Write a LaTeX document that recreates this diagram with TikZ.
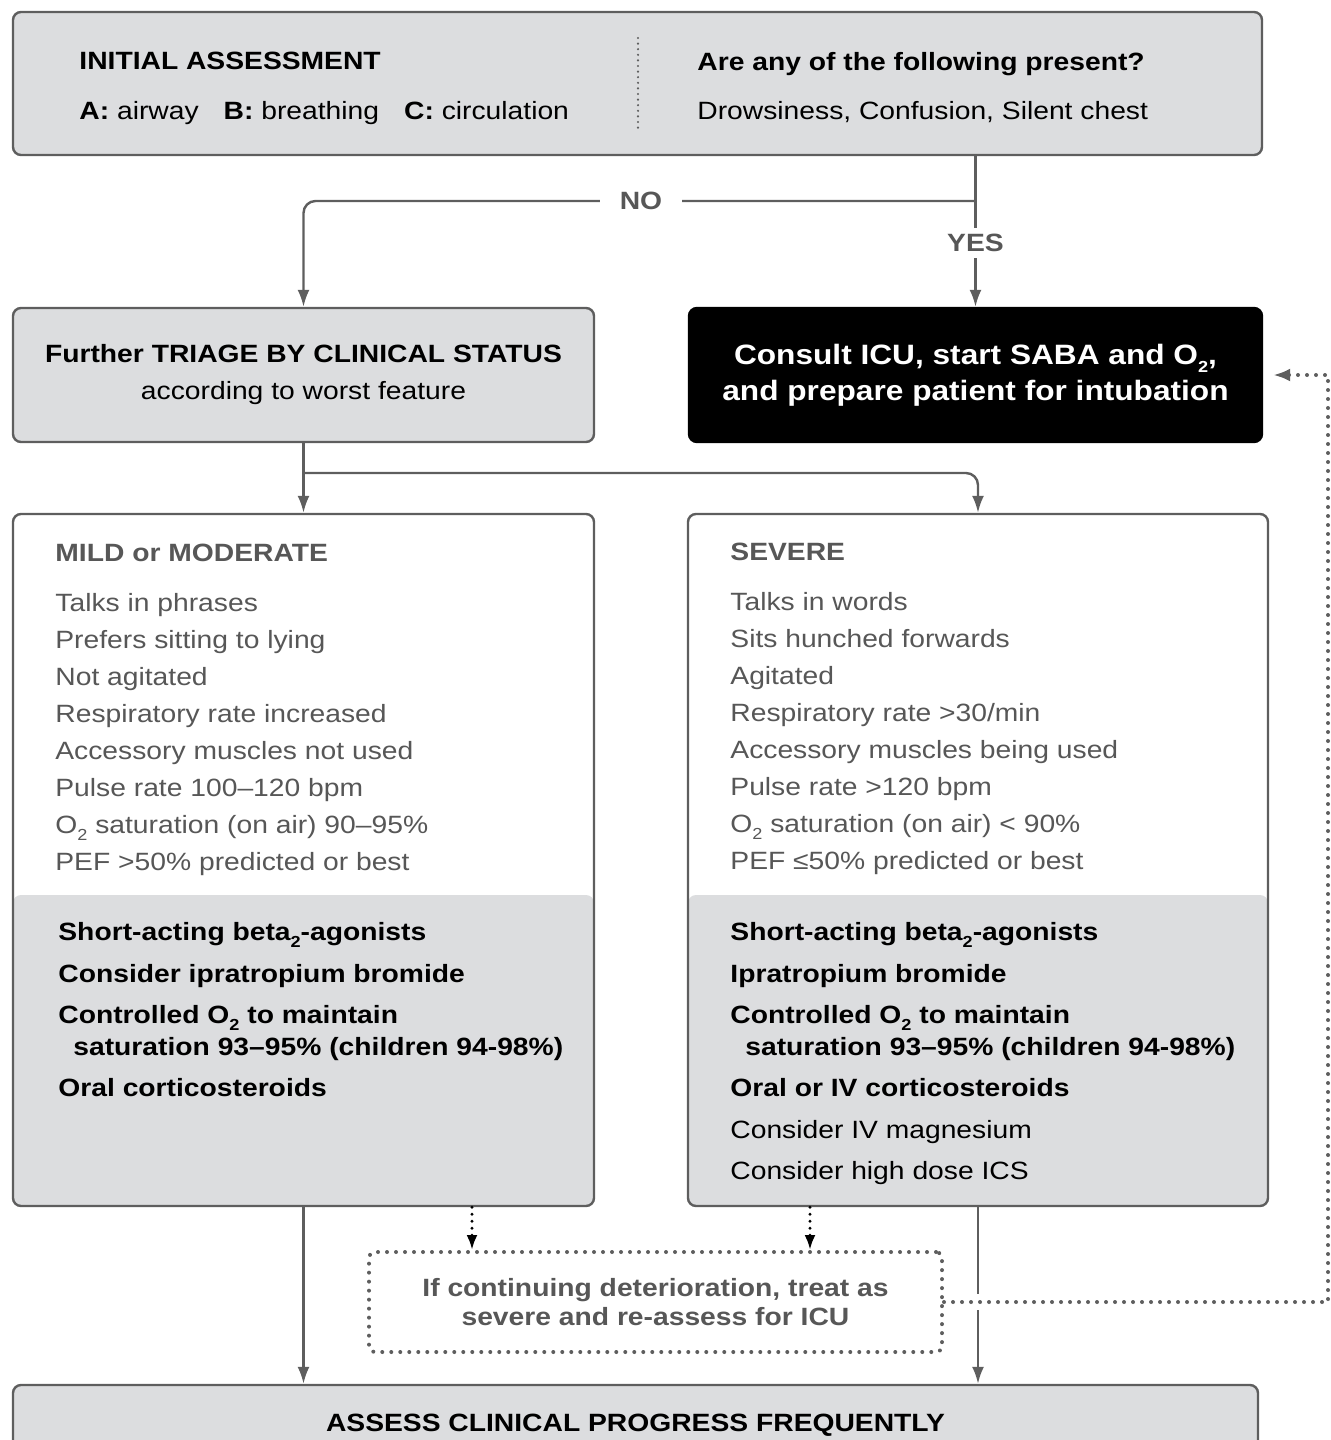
\documentclass[tikz,border=0pt]{standalone}
\usepackage{fontspec}
\setmainfont{Liberation Sans}[FakeStretch=1.13]
\usepackage{tikz}
\usetikzlibrary{arrows.meta,calc,positioning}
\definecolor{boxgray}{HTML}{DCDDDF}
\definecolor{linegray}{HTML}{5E5E5E}
\definecolor{textgray}{HTML}{575757}
\newcommand{\lowtwo}{\raisebox{-0.55ex}{\fontsize{8}{8}\selectfont 2}}
\newcommand{\otwo}{O\lowtwo}

\begin{document}
\begin{tikzpicture}[x=0.5pt, y=-0.5pt,
  box/.style={draw=linegray, line width=1.2pt, rounded corners=4pt, fill=boxgray, inner sep=0pt, align=center},
  splitbox/.style={box, fill=white, path picture={\fill[boxgray] (path picture bounding box.south west) rectangle ([yshift=155.5pt]path picture bounding box.south east);}},
  txt/.style={font=\fontsize{12.5}{18.5}\selectfont, inner sep=0pt, anchor=base west},
  sym/.style={txt, text=textgray},
  cure/.style={txt, font=\fontsize{12.5}{18.5}\selectfont\bfseries},
  lbl/.style={font=\fontsize{12.5}{15}\selectfont\bfseries, text=textgray, fill=white, inner xsep=10pt, inner ysep=3pt},
  arr/.style={draw=linegray, line width=1.2pt, -{Latex[length=8.5pt,width=6pt]}},
  dots/.style={line width=2pt, line cap=round, dash pattern=on 0pt off 4.5pt}]

\clip (0,0) rectangle (1330,1440);

% Valutazione iniziale
\node[box, minimum width=624.5pt, minimum height=71.5pt] (init) at (637.5,83.5) {};
\draw[dots, draw=linegray, line width=1.2pt, dash pattern=on 0pt off 2.8pt] (638,38) -- (638,132);
\node[cure] (inithead) at (79,69) {INITIAL ASSESSMENT};
\node[txt] (abc) at (79,119) {\textbf{A:} airway\hspace{12.5pt}\textbf{B:} breathing\hspace{12.5pt}\textbf{C:} circulation};
\node[cure] (askhead) at (697,70) {Are any of the following present?};
\node[txt] (signs) at (697,119) {Drowsiness, Confusion, Silent chest};

% Triage e ICU
\node[box, minimum width=290.5pt, minimum height=67pt, font=\fontsize{12.5}{18.5}\selectfont] (triage) at (303.5,375)
  {\textbf{Further TRIAGE BY CLINICAL STATUS}\\according to worst feature};
\node[box, draw=black, fill=black, text=white, minimum width=286.5pt, minimum height=67pt, font=\fontsize{14}{18}\selectfont\bfseries] (icu) at (975.5,375)
  {Consult ICU, start SABA and \otwo,\\and prepare patient for intubation};

% Gravita'
\node[splitbox, minimum width=290.5pt, minimum height=346pt] (mild) at (303.5,860) {};
\node[splitbox, minimum width=290pt, minimum height=346pt] (severe) at (978,860) {};

\node[cure, text=textgray] (mildhead) at (55,561) {MILD or MODERATE};
\foreach \t [count=\i from 0] in {Talks in phrases, Prefers sitting to lying, Not agitated,
    Respiratory rate increased, Accessory muscles not used, Pulse rate 100--120 bpm,
    {\otwo{} saturation (on air) 90--95\%}, PEF >50\% predicted or best}
  \node[sym] (mildsym\i) at (55,611+37*\i) {\t};
\node[cure] (mildt1) at (58,940) {Short-acting beta\lowtwo-agonists};
\node[cure] (mildt2) at (58,982) {Consider ipratropium bromide};
\node[cure] (mildt3) at (58,1023) {Controlled \otwo{} to maintain};
\node[cure] (mildt4) at (73,1055) {saturation 93--95\% (children 94-98\%)};
\node[cure] (mildt5) at (58,1096) {Oral corticosteroids};

\node[cure, text=textgray] (sevhead) at (730,560) {SEVERE};
\foreach \t [count=\i from 0] in {Talks in words, Sits hunched forwards, Agitated,
    Respiratory rate >30/min, Accessory muscles being used, Pulse rate >120 bpm,
    {\otwo{} saturation (on air) < 90\%}, PEF ≤50\% predicted or best}
  \node[sym] (sevsym\i) at (730,610+37*\i) {\t};
\node[cure] (sevt1) at (730,940) {Short-acting beta\lowtwo-agonists};
\node[cure] (sevt2) at (730,982) {Ipratropium bromide};
\node[cure] (sevt3) at (730,1023) {Controlled \otwo{} to maintain};
\node[cure] (sevt4) at (745,1055) {saturation 93--95\% (children 94-98\%)};
\node[cure] (sevt5) at (730,1096) {Oral or IV corticosteroids};
\node[txt] (sevt6) at (730,1138) {Consider IV magnesium};
\node[txt] (sevt7) at (730,1179) {Consider high dose ICS};

% Peggioramento e controllo
\node[dots, draw=linegray, rounded corners=3pt, minimum width=286.5pt, minimum height=50pt, align=center, text=textgray,
  font=\fontsize{12.5}{14.5}\selectfont\bfseries, inner sep=0pt] (dotbox) at (655.5,1302)
  {If continuing deterioration, treat as\\severe and re-assess for ICU};
\node[box, minimum width=622.5pt, minimum height=40pt, font=\fontsize{12.5}{15}\selectfont\bfseries] (final) at (635.5,1425)
  {ASSESS CLINICAL PROGRESS FREQUENTLY};

% Frecce
\coordinate (yesno) at (init.south -| icu.north);
\coordinate (nobend) at (icu.north |- 0,201);
\draw[arr] (yesno) -- (icu.north);
\draw[arr, rounded corners=6pt] (nobend) -| (triage.north);
\node[lbl] (nolbl) at (641,201) {NO};
\node[lbl] (yeslbl) at (975.5,243) {YES};

\coordinate (sevbend) at (triage.south |- 0,473);
\draw[arr] (triage.south) -- (mild.north);
\draw[arr, rounded corners=6pt] (sevbend) -| (severe.north);

\draw[arr] (mild.south) -- (mild.south |- final.north);
\draw[arr] (severe.south) -- (severe.south |- final.north);

\draw[dots, draw=black, line width=1.7pt, dash pattern=on 0pt off 3.5pt, -{Latex[length=7.5pt,width=5.5pt]}]
  (mild.south -| 472,0) -- (dotbox.north -| 472,0);
\draw[dots, draw=black, line width=1.7pt, dash pattern=on 0pt off 3.5pt, -{Latex[length=7.5pt,width=5.5pt]}]
  (severe.south -| 810,0) -- (dotbox.north -| 810,0);

\draw[dots, draw=linegray, preaction={draw=white, line width=8pt, solid, arrows=-}, shorten >=5pt,
  -{Latex[length=8.5pt,width=6.5pt]}] (dotbox.east) -- (dotbox.east -| 1328,0) |- (icu.east);

\end{tikzpicture}
\end{document}
